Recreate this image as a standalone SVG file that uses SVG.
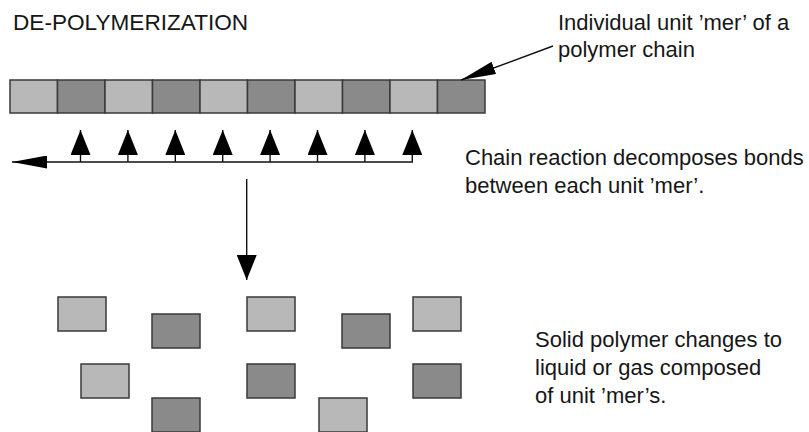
<svg xmlns="http://www.w3.org/2000/svg" width="809" height="432" viewBox="0 0 809 432">
  <style>
    .txt { font-family: "Liberation Sans", Arial, sans-serif; font-size: 22px; fill: #161616; }
    .title { font-size: 22.6px; }
    .light { fill: #b8b8b8; stroke: #3a3a3a; stroke-width: 1.5; }
    .dark { fill: #8a8a8a; stroke: #3a3a3a; stroke-width: 1.5; }
    .wire { fill: none; stroke: #111; stroke-width: 1.4; }
  </style>
  <defs>
    <marker id="head-wide" markerUnits="userSpaceOnUse" markerWidth="25" markerHeight="20" refX="25" refY="10" orient="auto">
      <path d="M0,0 L25,10 L0,20 Z" fill="#000"/>
    </marker>
    <marker id="head-long" markerUnits="userSpaceOnUse" markerWidth="35" markerHeight="13" refX="35" refY="6.5" orient="auto">
      <path d="M0,0 L35,6.5 L0,13 Z" fill="#000"/>
    </marker>
    <rect id="unit" width="48" height="34"/>
  </defs>

  <g id="title">
    <text class="txt title" x="13" y="30">DE-POLYMERIZATION</text>
  </g>

  <!-- polymer chain: ten alternating units -->
  <g id="chain">
    <rect class="light" x="10" y="80" width="47.5" height="33"/>
    <rect class="dark" x="57.5" y="80" width="47.5" height="33"/>
    <rect class="light" x="105" y="80" width="47.5" height="33"/>
    <rect class="dark" x="152.5" y="80" width="47.5" height="33"/>
    <rect class="light" x="200" y="80" width="47.5" height="33"/>
    <rect class="dark" x="247.5" y="80" width="47.5" height="33"/>
    <rect class="light" x="295" y="80" width="47.5" height="33"/>
    <rect class="dark" x="342.5" y="80" width="47.5" height="33"/>
    <rect class="light" x="390" y="80" width="47.5" height="33"/>
    <rect class="dark" x="437.5" y="80" width="47.5" height="33"/>
  </g>

  <g id="label-unit">
    <text class="txt" x="558" y="30">Individual unit ’mer’ of a</text>
    <text class="txt" x="558" y="57">polymer chain</text>
  </g>

  <g id="label-reaction">
    <text class="txt" x="465" y="165">Chain reaction decomposes bonds</text>
    <text class="txt" x="465" y="193">between each unit ’mer’.</text>
  </g>

  <g id="label-result">
    <text class="txt" x="535" y="347">Solid polymer changes to</text>
    <text class="txt" x="535" y="375">liquid or gas composed</text>
    <text class="txt" x="535" y="403">of unit ’mer’s.</text>
  </g>

  <!-- freed units after decomposition -->
  <g id="unit-1"><use href="#unit" class="light" x="58" y="297"/></g>
  <g id="unit-2"><use href="#unit" class="dark" x="152" y="314"/></g>
  <g id="unit-3"><use href="#unit" class="light" x="247" y="297"/></g>
  <g id="unit-4"><use href="#unit" class="dark" x="342" y="314"/></g>
  <g id="unit-5"><use href="#unit" class="light" x="413" y="297"/></g>
  <g id="unit-6"><use href="#unit" class="light" x="81" y="364"/></g>
  <g id="unit-7"><use href="#unit" class="dark" x="152" y="398"/></g>
  <g id="unit-8"><use href="#unit" class="dark" x="247" y="364"/></g>
  <g id="unit-9"><use href="#unit" class="light" x="319" y="398"/></g>
  <g id="unit-10"><use href="#unit" class="dark" x="413" y="364"/></g>

  <g id="connectors">
    <!-- pointer to a single unit -->
    <line class="wire" x1="553" y1="46" x2="461" y2="80" marker-end="url(#head-long)"/>
    <!-- reaction front running left -->
    <line class="wire" x1="413" y1="162" x2="12" y2="162" marker-end="url(#head-long)"/>
    <!-- bond breaks -->
    <line class="wire" x1="80.5" y1="162" x2="80.5" y2="130" marker-end="url(#head-wide)"/>
    <line class="wire" x1="127.9" y1="162" x2="127.9" y2="130" marker-end="url(#head-wide)"/>
    <line class="wire" x1="175.3" y1="162" x2="175.3" y2="130" marker-end="url(#head-wide)"/>
    <line class="wire" x1="222.7" y1="162" x2="222.7" y2="130" marker-end="url(#head-wide)"/>
    <line class="wire" x1="270.1" y1="162" x2="270.1" y2="130" marker-end="url(#head-wide)"/>
    <line class="wire" x1="317.5" y1="162" x2="317.5" y2="130" marker-end="url(#head-wide)"/>
    <line class="wire" x1="364.9" y1="162" x2="364.9" y2="130" marker-end="url(#head-wide)"/>
    <line class="wire" x1="412.3" y1="162" x2="412.3" y2="130" marker-end="url(#head-wide)"/>
    <!-- transition to freed units -->
    <line class="wire" x1="246.7" y1="179" x2="246.7" y2="280" marker-end="url(#head-wide)"/>
  </g>
</svg>
